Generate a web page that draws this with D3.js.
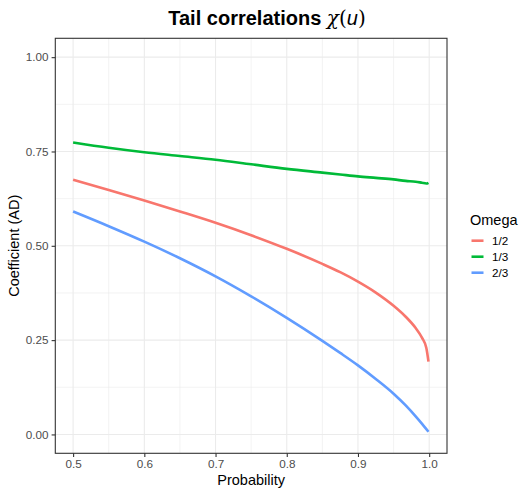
<!DOCTYPE html>
<html>
<head>
<meta charset="utf-8">
<script src="https://cdn.jsdelivr.net/npm/d3@7"></script>
<style>
  body { margin: 0; background: #fff; }
  svg { font-family: "Liberation Sans", Arial, sans-serif; }
</style>
</head>
<body>
<div class="graphics"></div>
<script>
// values
var probability = [0.5, 0.55, 0.6, 0.65, 0.7, 0.75, 0.8, 0.85, 0.875, 0.9, 0.925, 0.95, 0.967, 0.981, 0.99, 0.996, 0.999]
var omegaHalf   = [0.675, 0.648, 0.620, 0.591, 0.561, 0.528, 0.492, 0.452, 0.430, 0.405, 0.376, 0.341, 0.312, 0.282, 0.256, 0.229, 0.193]
var omegaThird  = [0.774, 0.760, 0.748, 0.738, 0.728, 0.716, 0.704, 0.694, 0.689, 0.684, 0.680, 0.676, 0.672, 0.670, 0.667, 0.665, 0.667]
var omegaTwo3   = [0.591, 0.552, 0.511, 0.467, 0.419, 0.366, 0.309, 0.248, 0.216, 0.183, 0.147, 0.108, 0.077, 0.048, 0.028, 0.014, 0.007]
var seriesNames = ["1/2", "1/3", "2/3"]
var xTicks = [0.5, 0.6, 0.7, 0.8, 0.9, 1.0]
var yTicks = [0, 0.25, 0.5, 0.75, 1.0]

var colors = ["#F8766D", "#00BA38", "#619CFF"]
var series = [omegaHalf, omegaThird, omegaTwo3].map(function(vals, i){
    return { name: seriesNames[i], color: colors[i],
             values: vals.map(function(v, j){ return {x: probability[j], y: v}; }) };
});

var w = 519, h = 488;
// panel edges (note: "top" is taken by window.top)
var pLeft = 55.3, pRight = 447, pTop = 38.3, pBottom = 453.3;

var x = d3.scaleLinear().domain([0.475, 1.025]).range([pLeft, pRight]);
var y = d3.scaleLinear().domain([-0.05, 1.05]).range([pBottom, pTop]);

var svg = d3.select('.graphics')
    .append('svg')
    .attr("width", w)
    .attr("height", h);

// grid
var xMinor = [0.55, 0.65, 0.75, 0.85, 0.95];
var yMinor = [0.125, 0.375, 0.625, 0.875];

svg.append("g").selectAll("line")
    .data(xMinor).enter().append("line")
    .attr("x1", x).attr("x2", x).attr("y1", pTop).attr("y2", pBottom)
    .attr("stroke", "#EBEBEB").attr("stroke-width", 0.6);
svg.append("g").selectAll("line")
    .data(yMinor).enter().append("line")
    .attr("y1", y).attr("y2", y).attr("x1", pLeft).attr("x2", pRight)
    .attr("stroke", "#EBEBEB").attr("stroke-width", 0.6);
svg.append("g").selectAll("line")
    .data(xTicks).enter().append("line")
    .attr("x1", x).attr("x2", x).attr("y1", pTop).attr("y2", pBottom)
    .attr("stroke", "#EBEBEB").attr("stroke-width", 1.1);
svg.append("g").selectAll("line")
    .data(yTicks).enter().append("line")
    .attr("y1", y).attr("y2", y).attr("x1", pLeft).attr("x2", pRight)
    .attr("stroke", "#EBEBEB").attr("stroke-width", 1.1);

// lines
var line = d3.line()
    .x(function(d){ return x(d.x); })
    .y(function(d){ return y(d.y); })
    .curve(d3.curveMonotoneX);

svg.append("g").selectAll("path")
    .data(series).enter().append("path")
    .attr("d", function(d){ return line(d.values); })
    .attr("fill", "none")
    .attr("stroke", function(d){ return d.color; })
    .attr("stroke-width", 2.6);

// panel border
svg.append("rect")
    .attr("x", pLeft).attr("y", pTop)
    .attr("width", pRight - pLeft).attr("height", pBottom - pTop)
    .attr("fill", "none").attr("stroke", "#333333").attr("stroke-width", 1.1);

// axes
var xAxis = svg.append("g")
    .attr("transform", "translate(0," + pBottom + ")")
    .call(d3.axisBottom(x).tickValues(xTicks).tickFormat(d3.format(".1f")).tickSizeOuter(0).tickSize(3.7).tickPadding(3));
var yAxis = svg.append("g")
    .attr("transform", "translate(" + pLeft + ",0)")
    .call(d3.axisLeft(y).tickValues(yTicks).tickFormat(d3.format(".2f")).tickSizeOuter(0).tickSize(3.7).tickPadding(3));

[xAxis, yAxis].forEach(function(a){
    a.select(".domain").remove();
    a.selectAll(".tick line").attr("stroke", "#333333").attr("stroke-width", 1.1);
    a.selectAll(".tick text").attr("fill", "#4D4D4D").style("font-size", "11.7px");
});

// axis titles
svg.append("text")
    .attr("x", (pLeft + pRight) / 2).attr("y", 485)
    .attr("text-anchor", "middle")
    .style("font-size", "14.5px")
    .text("Probability");

svg.append("text")
    .attr("transform", "translate(19," + ((pTop + pBottom) / 2) + ") rotate(-90)")
    .attr("text-anchor", "middle")
    .style("font-size", "14.5px")
    .text("Coefficient (AD)");

// title
var title = svg.append("text")
    .attr("x", 267).attr("y", 25)
    .attr("text-anchor", "middle")
    .style("font-size", "20px");
title.append("tspan").attr("font-weight", "bold").text("Tail correlations ");
title.append("tspan").attr("font-family", "'DejaVu Serif', serif").attr("font-style", "italic").text("χ");
title.append("tspan").attr("font-family", "'DejaVu Serif', serif").text("(");
title.append("tspan").attr("font-style", "italic").text("u");
title.append("tspan").attr("font-family", "'DejaVu Serif', serif").text(")");

// legend
var legend = svg.append("g").attr("transform", "translate(470,0)");
legend.append("text")
    .attr("x", 0).attr("y", 225)
    .style("font-size", "14.5px")
    .text("Omega");

var keys = legend.selectAll(".key")
    .data(series).enter().append("g")
    .attr("class", "key")
    .attr("transform", function(d, i){ return "translate(0," + (240.7 + i * 16) + ")"; });
keys.append("line")
    .attr("x1", 1.5).attr("x2", 13.5)
    .attr("stroke", function(d){ return d.color; })
    .attr("stroke-width", 2.6);
keys.append("text")
    .attr("x", 22).attr("y", 4)
    .style("font-size", "11.7px")
    .text(function(d){ return d.name; });
</script>
</body>
</html>
